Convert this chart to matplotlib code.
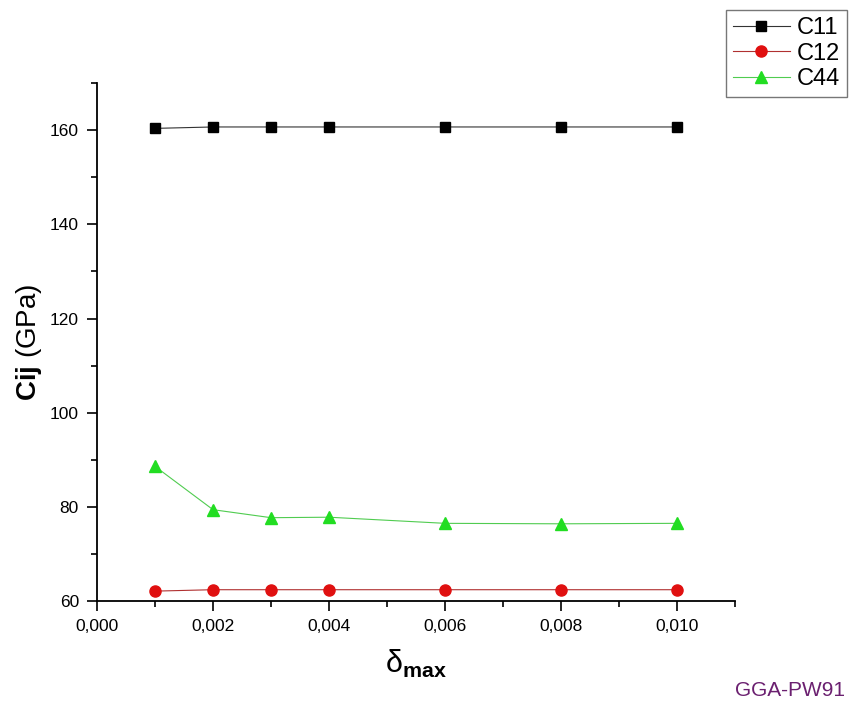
import matplotlib
matplotlib.use("Agg")
import matplotlib.pyplot as plt
from matplotlib.ticker import MultipleLocator, FuncFormatter

plt.rcParams['font.family'] = ['Liberation Sans', 'DejaVu Sans']
plt.rcParams['mathtext.fontset'] = 'custom'
plt.rcParams['mathtext.rm'] = 'Liberation Sans'
plt.rcParams['mathtext.it'] = 'Liberation Sans'
plt.rcParams['mathtext.bf'] = 'Liberation Sans:bold'

delta = [0.001, 0.002, 0.003, 0.004, 0.006, 0.008, 0.010]
c11 = [160.4, 160.7, 160.7, 160.7, 160.7, 160.7, 160.7]
c12 = [62.1, 62.4, 62.4, 62.4, 62.4, 62.4, 62.4]
c44 = [88.6, 79.4, 77.7, 77.8, 76.5, 76.4, 76.5]

fig = plt.figure(figsize=(8.54, 7.11), dpi=100)
ax = fig.add_axes([0.1136, 0.1547, 0.7471, 0.7283])

l1, = ax.plot(delta, c11, color='#333333', lw=0.8, marker='s', ms=7, mfc='black', mec='black', label='C11')
l2, = ax.plot(delta, c12, color='#b03030', lw=0.8, marker='o', ms=8, mfc='#e01010', mec='#e01010', label='C12')
l3, = ax.plot(delta, c44, color='#50cc50', lw=0.8, marker='^', ms=9, mfc='#22dd22', mec='#22dd22', label='C44')

ax.set_xlim(0, 0.011)
ax.set_ylim(60, 170)
ax.spines['top'].set_visible(False)
ax.spines['right'].set_visible(False)
ax.spines['left'].set_linewidth(1.3)
ax.spines['bottom'].set_linewidth(1.3)

ax.xaxis.set_major_locator(MultipleLocator(0.002))
ax.xaxis.set_minor_locator(MultipleLocator(0.001))
ax.yaxis.set_major_locator(MultipleLocator(20))
ax.yaxis.set_minor_locator(MultipleLocator(10))
ax.xaxis.set_major_formatter(FuncFormatter(lambda v, p: f"{v:.3f}".replace('.', ',')))
ax.tick_params(which='major', direction='out', length=7, width=1.2, labelsize=12.5, pad=6)
ax.tick_params(which='minor', direction='out', length=4, width=1.2)

ax.set_ylabel(r"$\mathbf{Cij}$ (GPa)", fontsize=20, labelpad=4)
ax.set_xlabel("δ$_{\\mathbf{max}}$", fontsize=22, labelpad=10)

leg = fig.legend(handles=[l1, l2, l3], loc='upper right', bbox_to_anchor=(0.992, 0.986),
                 fontsize=17, frameon=True, fancybox=False, edgecolor='#555555',
                 handlelength=2.4, handletextpad=0.3, borderpad=0.3, labelspacing=0.15,
                 borderaxespad=0.0)
leg.get_frame().set_linewidth(1.0)

fig.text(0.99, 0.015, "GGA-PW91", color='#6b2070', fontsize=15, ha='right', va='bottom')

fig.savefig("out.png", dpi=100)
